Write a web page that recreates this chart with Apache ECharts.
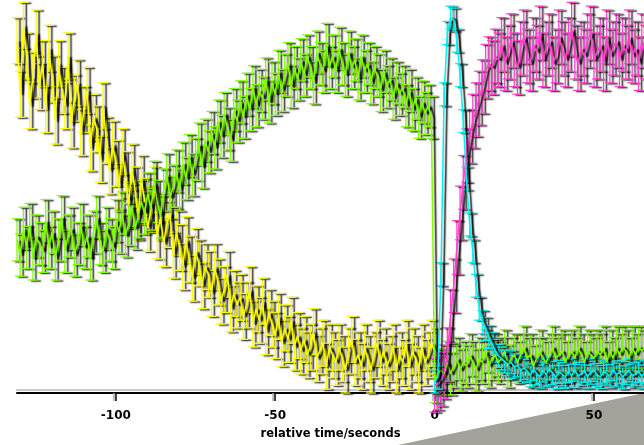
<!DOCTYPE html>
<html>
<head>
<meta charset="utf-8">
<script src="https://cdn.jsdelivr.net/npm/echarts@6/dist/echarts.min.js"></script>
<style>
html, body {margin:0; padding:0; background:#fff;}
#display {width:644px; height:445px;}
</style>
</head>
<body>
<div id="display"></div>
<script>
// samples are 1 s apart, starting at the given time
var yellowStart = -131;
var yellow = [
    92, 78, 96, 88, 75, 83, 94, 80, 86, 74,
    90, 82, 71, 86, 79, 75, 88, 70, 77, 81,
    68, 74, 79, 64, 72, 69, 61, 75, 66, 58,
    65, 60, 54, 63, 57, 49, 59, 53, 46, 56,
    50, 43, 48, 53, 41, 46, 39, 44, 47, 36,
    42, 38, 33, 40, 35, 30, 37, 34, 28, 33,
    31, 26, 33, 29, 24, 27, 31, 22, 26, 23,
    25, 20, 23, 27, 18, 22, 19, 24, 16, 21,
    18, 15, 20, 13, 17, 14, 19, 12, 15, 11,
    14, 10, 12, 16, 9, 11, 13, 7, 12, 10,
    8, 12, 9, 6, 11, 14, 8, 10, 7, 12,
    9, 6, 10, 13, 8, 11, 7, 9, 12, 6,
    10, 8, 13, 7, 11, 9, 6, 12, 8, 10,
    13, 11
];
var greenStart = -131;
var green = [
    40, 36, 43, 38, 44, 35, 41, 39, 37, 45,
    38, 42, 35, 40, 46, 37, 41, 43, 36, 39,
    44, 38, 41, 35, 42, 46, 39, 37, 43, 40,
    38, 45, 42, 47, 41, 44, 49, 43, 46, 50,
    47, 52, 48, 55, 50, 46, 53, 57, 51, 54,
    58, 53, 60, 56, 62, 57, 61, 65, 59, 66,
    63, 68, 64, 71, 67, 73, 69, 66, 74, 71,
    76, 72, 78, 74, 80, 75, 79, 77, 82, 76,
    81, 78, 84, 79, 83, 86, 80, 85, 82, 87,
    83, 88, 85, 81, 89, 86, 84, 91, 85, 88,
    84, 90, 86, 83, 89, 85, 87, 82, 88, 84,
    86, 81, 85, 83, 79, 84, 80, 82, 77, 81,
    78, 80, 75, 79, 74, 77, 72, 76, 73, 75,
    72,
    3, 5, 6, 5, 8, 5, 7, 9, 6, 8,
    7, 10, 8, 6, 9, 8, 11, 7, 9, 10,
    8, 9, 11, 7, 9, 10, 8, 10, 12, 9,
    10, 7, 9, 11, 9, 8, 10, 12, 9, 10,
    11, 8, 10, 11, 9, 12, 10, 8, 11, 10,
    9, 11, 10, 12, 8, 11, 9, 12, 10, 12,
    11, 9, 12, 10, 12, 11, 12
];
var magentaStart = 0;
var magenta = [
    2, 2.6, 3.6, 5.5, 10, 20, 28, 38, 47, 55,
    62, 67, 71, 74, 77, 80, 84, 86, 85, 88,
    87, 91, 86, 89, 92, 87, 85, 90, 93, 88,
    86, 91, 89, 94, 87, 90, 92, 86, 88, 93,
    90, 87, 91, 95, 89, 86, 90, 88, 92, 94,
    87, 89, 91, 86, 93, 88, 90, 92, 87, 91,
    89, 93, 88, 90, 86, 92, 89
];
var cyanStart = 0;
var cyan = [
    3, 4, 31, 78, 94, 98, 97.5, 92, 83, 71,
    56, 44, 37, 28, 22, 18.5, 16.7, 14.6, 12.8, 11,
    9.7, 9, 8.2, 7.5, 8, 6.8, 7.2, 6, 6.5, 5.8,
    4.6, 6.2, 5.1, 4.3, 5.9, 4.8, 6.4, 5.2, 4.1, 5.5,
    4.9, 4.2, 5.7, 4.5, 6.1, 4.4, 5, 5.8, 4.3, 5.3,
    6, 4.7, 4.2, 5.6, 5.1, 4.4, 6.2, 4.8, 5.4, 4.1,
    5.2, 5.9, 4.5, 4.9, 5.7, 4.3, 5.4
];
// half length of the error bars, same units as the values
var yellowErr = 6;
var greenErr = 5.5;
var magentaErr = 7;
var cyanErr = 3;
var tickValues = [-100, -50, 0, 50];

var shadow = {
    shadowColor: 'rgba(0,0,0,1)',
    shadowBlur: 1.5,
    shadowOffsetX: 3,
    shadowOffsetY: 1
};

function points(vals, t0) {
    return vals.map(function (v, i) { return [t0 + i, v]; });
}

function bars(vals, t0, e) {
    return vals.map(function (v, i) { return [t0 + i, v - e, v + e]; });
}

function errorBars(color) {
    return function (params, api) {
        var top = api.coord([api.value(0), api.value(2)]);
        var bot = api.coord([api.value(0), api.value(1)]);
        var w = 5;
        var style = Object.assign({stroke: color, lineWidth: 1.3}, shadow);
        return {
            type: 'group',
            children: [
                {type: 'line', shape: {x1: top[0], y1: top[1], x2: bot[0], y2: bot[1]}, style: style},
                {type: 'line', shape: {x1: top[0] - w, y1: top[1], x2: top[0] + w, y2: top[1]}, style: style},
                {type: 'line', shape: {x1: bot[0] - w, y1: bot[1], x2: bot[0] + w, y2: bot[1]}, style: style}
            ]
        };
    };
}

function addSeries(list, vals, t0, e, color) {
    list.push({
        type: 'custom',
        renderItem: errorBars(color),
        data: bars(vals, t0, e),
        silent: true,
        z: 3
    });
    list.push({
        type: 'line',
        data: points(vals, t0),
        symbol: 'none',
        lineStyle: Object.assign({color: color, width: 1.5}, shadow),
        silent: true,
        z: 3
    });
}

var series = [];
addSeries(series, yellow, yellowStart, yellowErr, '#ffff00');
addSeries(series, green, greenStart, greenErr, '#80ff00');
addSeries(series, magenta, magentaStart, magentaErr, '#ff44cc');
addSeries(series, cyan, cyanStart, cyanErr, '#00f0f0');

var option = {
    animation: false,
    grid: {left: 17, right: 0, top: 10, bottom: 33},
    xAxis: {
        type: 'value',
        min: -131,
        max: 65.7,
        z: 2,
        name: 'relative time/seconds',
        nameLocation: 'middle',
        nameGap: 35,
        nameTextStyle: {
            color: '#000', fontWeight: 'bold', fontSize: 11.5, fontFamily: 'DejaVu Sans',
            textShadowColor: '#999', textShadowOffsetX: -1, textShadowOffsetY: 0
        },
        axisLine: {lineStyle: {
            color: '#000', width: 2,
            shadowColor: '#c8c8c8', shadowOffsetY: -3, shadowBlur: 0
        }},
        axisTick: {length: 8, customValues: tickValues, lineStyle: {
            color: '#000', width: 1.5,
            shadowColor: '#aaa', shadowOffsetX: -2, shadowBlur: 0
        }},
        axisLabel: {
            customValues: tickValues,
            color: '#000', fontWeight: 'bold', fontSize: 12, fontFamily: 'DejaVu Sans',
            margin: 17,
            textShadowColor: '#999', textShadowOffsetX: -1
        },
        splitLine: {show: false}
    },
    yAxis: {
        type: 'value', min: 0, max: 100,
        show: false
    },
    graphic: [{
        type: 'polygon',
        z: -1,
        silent: true,
        shape: {points: [[398, 445], [644, 393], [644, 445]]},
        style: {fill: '#a3a39c'}
    }],
    series: series
};

var myChart = echarts.init(document.getElementById('display'));
myChart.setOption(option);
</script>
</body>
</html>
